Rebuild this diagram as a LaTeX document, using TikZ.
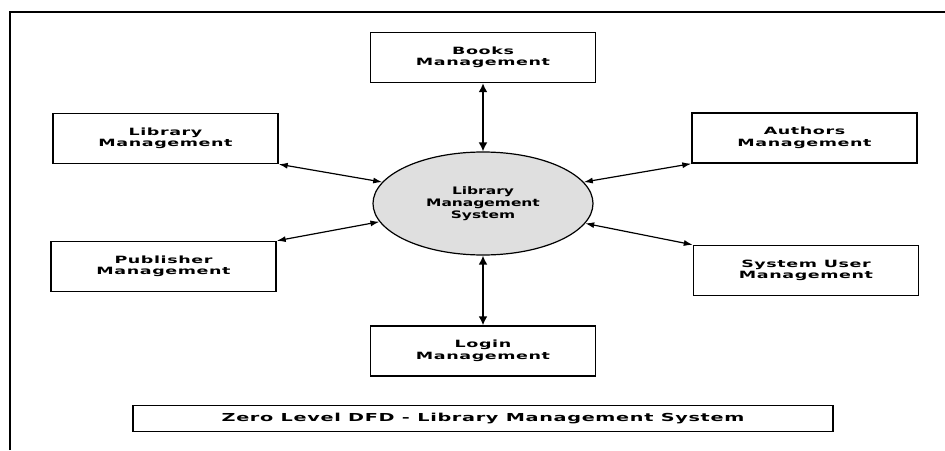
\documentclass[tikz,border=0pt]{standalone}
\usepackage{fontspec}
\newfontfamily\boxfont{DejaVu Sans Bold}[FakeStretch=1.75,LetterSpace=6]
\newfontfamily\corefont{DejaVu Sans Bold}[FakeStretch=1.5]
\usetikzlibrary{shapes.geometric, arrows.meta, positioning}

\begin{document}
\begin{tikzpicture}[x=1pt, y=-1pt, >={Latex[length=8pt,width=6pt]}, on grid,
    entity/.style={draw, line width=1.4pt, minimum width=225pt, minimum height=50pt,
        align=center, font=\boxfont\fontsize{10}{11.5}\selectfont},
    process/.style={ellipse, draw, line width=1.2pt, fill=gray!25, minimum width=220pt,
        minimum height=103pt, align=center, font=\corefont\fontsize{10.3}{11.7}\selectfont},
    flow/.style={{Latex[length=9pt,width=6pt]}-{Latex[length=9pt,width=6pt]}, line width=1.2pt},
    mainflow/.style={{Latex[length=9pt,width=9pt]}-{Latex[length=9pt,width=9pt]}, line width=2.2pt}]
        \useasboundingbox (0,0) rectangle (945,450);
        \draw[line width=1.5pt] (10,450) -- (10,12) -- (945,12);
        \node[process] (sys) at (483,203.5) {Library\\Management\\System};
        \node[entity] (books) [above=146pt of sys] {Books\\Management};
        \node[entity] (lib) [above left=65pt and 317.5pt of sys] {Library\\Management};
        \node[entity] (auth) [above right=65.5pt and 321.5pt of sys] {Authors\\Management};
        \node[entity] (pub) [below left=63pt and 319.5pt of sys] {Publisher\\Management};
        \node[entity] (user) [below right=67pt and 323pt of sys] {System User\\Management};
        \node[entity] (login) [below=147.5pt of sys] {Login\\Management};
        \node[entity, minimum width=700pt, minimum height=26pt, line width=1.5pt,
            font=\boxfont\fontsize{11}{12}\selectfont] (title)
            [below=215pt of sys] {Zero Level DFD - Library Management System};
        \path
        (books) edge[mainflow] (sys)
        (login) edge[mainflow] (sys)
        (lib.south east) edge[flow] (sys.168)
        (auth.south west) edge[flow] (sys.12)
        (pub.north east) edge[flow] (sys.190)
        (user.north west) edge[flow] (sys.349)
        ;
    \end{tikzpicture}
\end{document}
